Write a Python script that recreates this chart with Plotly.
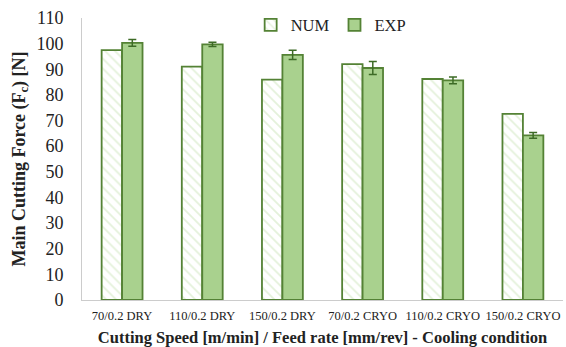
import plotly.graph_objects as go

categories = ["70/0.2 DRY", "110/0.2 DRY", "150/0.2 DRY", "70/0.2 CRYO", "110/0.2 CRYO", "150/0.2 CRYO"]
num_values = [97.5, 91.0, 86.0, 92.0, 86.2, 72.6]
exp_values = [100.3, 99.7, 95.6, 90.5, 85.7, 64.2]
exp_errors = [1.3, 0.8, 1.8, 2.5, 1.3, 1.1]
y_ticks = list(range(0, 111, 10))

font = "Liberation Serif, Times New Roman, serif"

fig = go.Figure()
fig.add_trace(go.Bar(
    x=categories, y=num_values, name="NUM",
    marker=dict(color="white", line=dict(color="#548235", width=1.8),
                pattern=dict(shape="\\", fgcolor="#c9e3b6", bgcolor="white", size=7, solidity=0.25)),
))
fig.add_trace(go.Bar(
    x=categories, y=exp_values, name="EXP",
    marker=dict(color="#a9d18e", line=dict(color="#548235", width=1.8)),
    error_y=dict(type="data", array=exp_errors, color="#3d6b26", thickness=1.5, width=4),
))

fig.update_layout(
    width=566, height=347,
    margin=dict(l=82, r=3, t=18, b=47, autoexpand=False),
    paper_bgcolor="white", plot_bgcolor="white",
    barmode="group", bargap=0.49, bargroupgap=0,
    font=dict(family=font, color="#222222"),
    showlegend=True,
    legend=dict(orientation="h", x=0.518, y=0.975, xanchor="center", yanchor="middle",
                font=dict(size=16.5, family=font), bgcolor="rgba(0,0,0,0)",
                itemwidth=30, traceorder="normal"),
    xaxis=dict(
        showline=True, linecolor="#cccccc", linewidth=1, ticks="",
        tickfont=dict(size=12.5, family=font), automargin=False, tickangle=0,
        ticklabelstandoff=4,
        title=dict(text="<b>Cutting Speed [m/min] / Feed rate [mm/rev] - Cooling condition</b>",
                   font=dict(size=16.5, family=font), standoff=10),
    ),
    yaxis=dict(
        range=[0, 110], tickvals=y_ticks, showgrid=False, zeroline=False,
        showline=True, linecolor="#cccccc", linewidth=1, ticks="",
        tickfont=dict(size=18, family=font), ticklabelstandoff=14, automargin=False,
        title=dict(text="<b>Main Cutting Force (F<sub>c</sub>) [N]</b>",
                   font=dict(size=18, family=font), standoff=6),
    ),
)

fig.write_html("out.html", config={"displayModeBar": False},
               post_script="document.body.style.margin='0';document.body.style.overflow='hidden';")
